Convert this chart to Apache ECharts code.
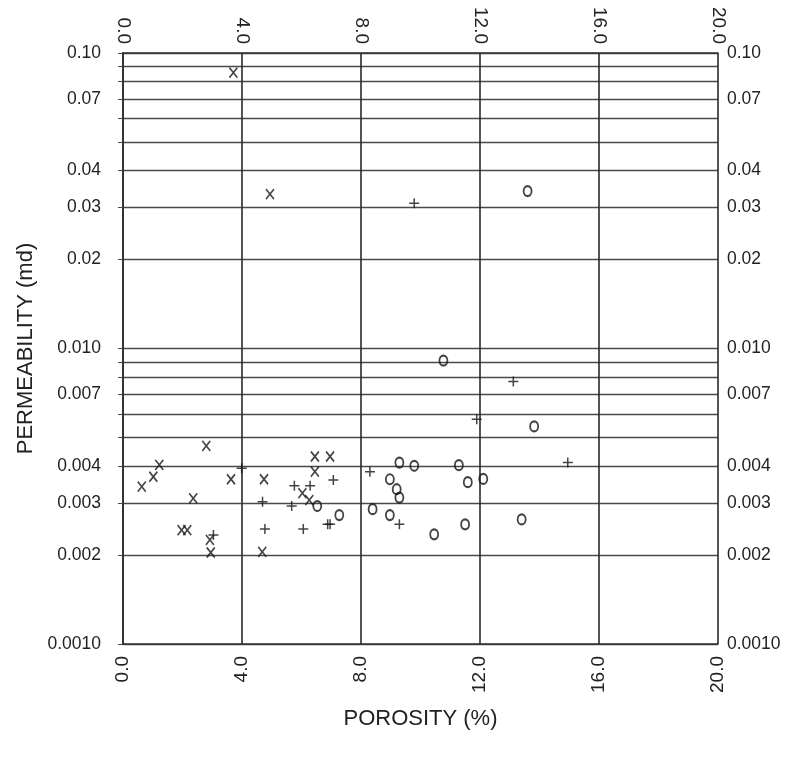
<!DOCTYPE html>
<html>
<head>
<meta charset="utf-8">
<script src="https://cdn.jsdelivr.net/npm/echarts@6/dist/echarts.min.js"></script>
<style>html,body{margin:0;padding:0;background:#fff}#c{width:788px;height:762px}</style>
</head>
<body>
<div id="c"></div>
<script>
// Porosity (%) and permeability (md)
const xSamplesX = [3.71, 4.94, 2.80, 1.22, 1.02, 0.63, 2.36, 1.97, 2.16, 2.92, 2.95, 3.63, 4.74, 4.68, 6.45, 6.96, 6.45, 6.03, 6.26];
const xSamplesY = [0.0858, 0.0333, 0.00468, 0.00404, 0.00368, 0.00341, 0.00311, 0.00243, 0.00243, 0.00225, 0.00204, 0.00361, 0.00361, 0.00205, 0.00431, 0.00431, 0.00383, 0.00324, 0.00307];

const plusSamplesX = [3.99, 3.04, 4.69, 4.77, 5.76, 6.29, 5.67, 6.06, 7.07, 6.88, 6.96, 8.30, 9.29, 9.79, 13.12, 11.89, 14.95];
const plusSamplesY = [0.00393, 0.00234, 0.00303, 0.00245, 0.00343, 0.00343, 0.00293, 0.00245, 0.00359, 0.00254, 0.00254, 0.00383, 0.00254, 0.0310, 0.00773, 0.00576, 0.00411];

const oSamplesX = [6.53, 7.27, 9.29, 9.79, 11.29, 8.97, 9.20, 9.29, 8.39, 8.97, 10.46, 11.59, 12.11, 11.50, 13.40, 13.82, 10.77, 13.60];
const oSamplesY = [0.00293, 0.00273, 0.00411, 0.00401, 0.00403, 0.00361, 0.00334, 0.00313, 0.00286, 0.00273, 0.00235, 0.00353, 0.00362, 0.00254, 0.00264, 0.00545, 0.00910, 0.0341];

const yTickValues = [0.001, 0.002, 0.003, 0.004, 0.007, 0.01, 0.02, 0.03, 0.04, 0.07, 0.1];
const yTickLabels = ['0.0010', '0.002', '0.003', '0.004', '0.007', '0.010', '0.02', '0.03', '0.04', '0.07', '0.10'];
const yGridValues = [0.001, 0.002, 0.003, 0.004, 0.005, 0.006, 0.007, 0.008, 0.009, 0.01, 0.02, 0.03, 0.04, 0.05, 0.06, 0.07, 0.08, 0.09, 0.1];
const xMin = 0, xMax = 20, xStep = 4;

const L = Math.log10;
function pairs(xs, ys) { return xs.map((x, i) => [x, L(ys[i])]); }
function yFmt(v) {
  for (let i = 0; i < yTickValues.length; i++) if (Math.abs(L(yTickValues[i]) - v) < 1e-6) return yTickLabels[i];
  return '';
}
const FONT = 'Liberation Sans';
const txt = '#222';
const xAxisBase = {
  type: 'value', min: xMin, max: xMax, interval: xStep,
  axisLine: { show: true, lineStyle: { color: '#333', width: 1.6 } },
  axisTick: { show: false },
  axisLabel: { rotate: 90, fontSize: 19, color: txt, fontFamily: FONT, formatter: v => v.toFixed(1) }
};
const yAxisBase = {
  type: 'value', min: L(0.001), max: L(0.1),
  axisLine: { show: true, lineStyle: { color: '#333', width: 1.6 } },
  axisLabel: { customValues: yTickValues.map(L), fontSize: 17.5, color: txt, fontFamily: FONT, formatter: yFmt }
};
const markStyle = { color: 'none', borderColor: '#151515', borderWidth: 1.7 };
const option = {
  animation: false,
  backgroundColor: '#fff',
  grid: { left: 123, right: 70, top: 53, bottom: 118 },
  xAxis: [
    Object.assign({}, xAxisBase, {
      position: 'bottom', name: 'POROSITY (%)', nameLocation: 'middle', nameGap: 64,
      nameTextStyle: { fontSize: 22, color: txt, fontFamily: FONT },
      axisLabel: Object.assign({}, xAxisBase.axisLabel, { margin: 12 }),
      splitLine: { show: true, lineStyle: { color: '#2a2a2a', width: 1.6 } }
    }),
    Object.assign({}, xAxisBase, {
      position: 'top',
      axisLabel: Object.assign({}, xAxisBase.axisLabel, { margin: 9 }),
      splitLine: { show: false }
    })
  ],
  yAxis: [
    Object.assign({}, yAxisBase, {
      position: 'left', name: 'PERMEABILITY (md)', nameLocation: 'middle', nameGap: 86,
      nameRotate: 90,
      nameTextStyle: { fontSize: 22, color: txt, fontFamily: FONT },
      axisTick: { show: true, length: 5, customValues: yGridValues.map(L), lineStyle: { color: '#444' } },
      axisLabel: Object.assign({}, yAxisBase.axisLabel, { margin: 22 }),
      splitLine: { show: true, lineStyle: { color: '#4a4a4a', width: 1.4 } }
    }),
    Object.assign({}, yAxisBase, {
      position: 'right',
      axisTick: { show: false, customValues: yGridValues.map(L) },
      axisLabel: Object.assign({}, yAxisBase.axisLabel, { margin: 9 }),
      splitLine: { show: false }
    })
  ],
  series: [
    { type: 'scatter', data: pairs(xSamplesX, xSamplesY), symbol: 'path://M0,0L8,10M8,0L0,10', symbolSize: [8, 10], itemStyle: markStyle, emphasis: { disabled: true } },
    { type: 'scatter', data: pairs(plusSamplesX, plusSamplesY), symbol: 'path://M5,0L5,10M0,5L10,5', symbolSize: [10, 10], itemStyle: { color: 'none', borderColor: '#151515', borderWidth: 1.5 }, emphasis: { disabled: true } },
    { type: 'scatter', data: pairs(oSamplesX, oSamplesY), symbol: 'path://M4,0A4,5,0,1,1,4,10A4,5,0,1,1,4,0Z', symbolSize: [8, 10], itemStyle: { color: 'none', borderColor: '#151515', borderWidth: 2 }, emphasis: { disabled: true } }
  ]
};
echarts.init(document.getElementById('c'), null, { renderer: 'canvas' }).setOption(option);
</script>
</body>
</html>
